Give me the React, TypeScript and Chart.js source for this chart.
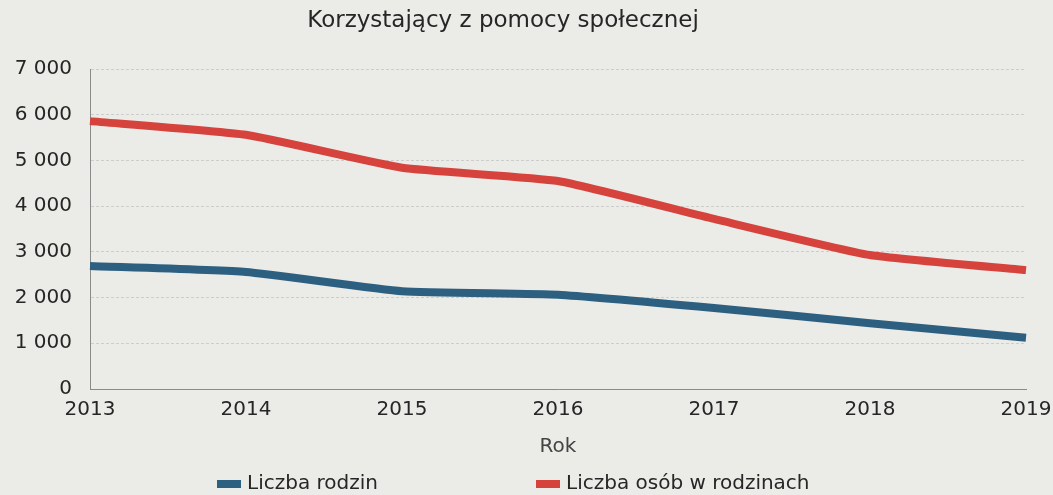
import React, { useEffect, useRef } from "react";
import { Chart, registerables } from "chart.js";

Chart.register(...registerables);

const TITLE = "Korzystający z pomocy społecznej";
const X_TITLE = "Rok";
const years = ["2013", "2014", "2015", "2016", "2017", "2018", "2019"];
const familiesLabel = "Liczba rodzin";
const families = [2690, 2560, 2140, 2060, 1770, 1440, 1120];
const personsLabel = "Liczba osób w rodzinach";
const persons = [5860, 5560, 4840, 4550, 3720, 2930, 2600];
const yTicks = [0, 1000, 2000, 3000, 4000, 5000, 6000, 7000];

const BLUE = "#2d6080";
const RED = "#d6433d";
const TEXT = "#262626";
const BG = "#ebebe8";
const FONT = "'DejaVu Sans', sans-serif";

const fmt = (v: number) =>
  v === 0 ? "0" : `${Math.floor(v / 1000)} ${String(v % 1000).padStart(3, "0")}`;

const decorPlugin = {
  id: "decor",
  beforeDraw(chart: any) {
    const ctx = chart.ctx;
    ctx.save();
    ctx.fillStyle = BG;
    ctx.fillRect(0, 0, chart.width, chart.height);
    ctx.restore();
  },
  afterDraw(chart: any) {
    const ctx = chart.ctx;
    ctx.save();
    // title
    ctx.fillStyle = TEXT;
    ctx.font = `23px ${FONT}`;
    ctx.textAlign = "center";
    ctx.textBaseline = "middle";
    ctx.fillText(TITLE, 503, 21);
    // legend
    ctx.font = `20px ${FONT}`;
    ctx.textAlign = "left";
    const items = [
      { x: 217, ds: chart.data.datasets[0] },
      { x: 536, ds: chart.data.datasets[1] },
    ];
    for (const it of items) {
      ctx.fillStyle = it.ds.borderColor;
      ctx.fillRect(it.x, 480, 24, 8);
      ctx.fillStyle = TEXT;
      ctx.fillText(it.ds.label, it.x + 30, 484);
    }
    ctx.restore();
  },
};

export default function App() {
  const ref = useRef<HTMLCanvasElement | null>(null);

  useEffect(() => {
    document.body.style.margin = "0";
    document.body.style.background = BG;
    const chart = new Chart(ref.current!, {
      type: "line",
      data: {
        labels: years,
        datasets: [
          {
            label: familiesLabel,
            data: families,
            borderColor: BLUE,
            backgroundColor: BLUE,
            borderWidth: 8,
            pointRadius: 0,
            tension: 0.15,
            borderJoinStyle: "round",
            clip: false as any,
          },
          {
            label: personsLabel,
            data: persons,
            borderColor: RED,
            backgroundColor: RED,
            borderWidth: 8,
            pointRadius: 0,
            tension: 0.15,
            borderJoinStyle: "round",
            clip: false as any,
          },
        ],
      },
      options: {
        animation: false,
        responsive: false,
        layout: { padding: { left: 0, right: 0, top: 69, bottom: 36 } },
        plugins: {
          legend: { display: false },
          title: { display: false },
          tooltip: { enabled: false },
        },
        scales: {
          x: {
            grid: { display: false, drawTicks: false },
            border: { display: true, color: "#8a8a8a", width: 1, dash: [3, 2] },
            ticks: {
              color: TEXT,
              font: { family: FONT, size: 20 },
              padding: 9,
              maxRotation: 0,
              autoSkip: false,
            },
            title: {
              display: true,
              text: X_TITLE,
              color: "#444",
              font: { family: FONT, size: 20 },
              padding: { top: 0, bottom: 0 },
            },
            afterFit(scale: any) {
              scale.height = 70;
              scale.paddingRight = 27;
            },
          },
          y: {
            min: 0,
            max: 7000,
            afterBuildTicks(scale: any) {
              scale.ticks = yTicks.map((v) => ({ value: v }));
            },
            grid: { color: "#cdcdcb", lineWidth: 1, drawTicks: false },
            border: { display: true, color: "#8a8a8a", width: 1, dash: [3, 2] },
            ticks: {
              color: TEXT,
              font: { family: FONT, size: 20 },
              padding: 18,
              callback: (v: any) => fmt(Number(v)),
            },
            afterFit(scale: any) {
              scale.width = 90;
            },
          },
        },
      } as any,
      plugins: [decorPlugin],
    });
    return () => chart.destroy();
  }, []);

  return (
    <div style={{ width: 1053, height: 495, background: BG }}>
      <canvas ref={ref} width={1053} height={495} />
    </div>
  );
}
